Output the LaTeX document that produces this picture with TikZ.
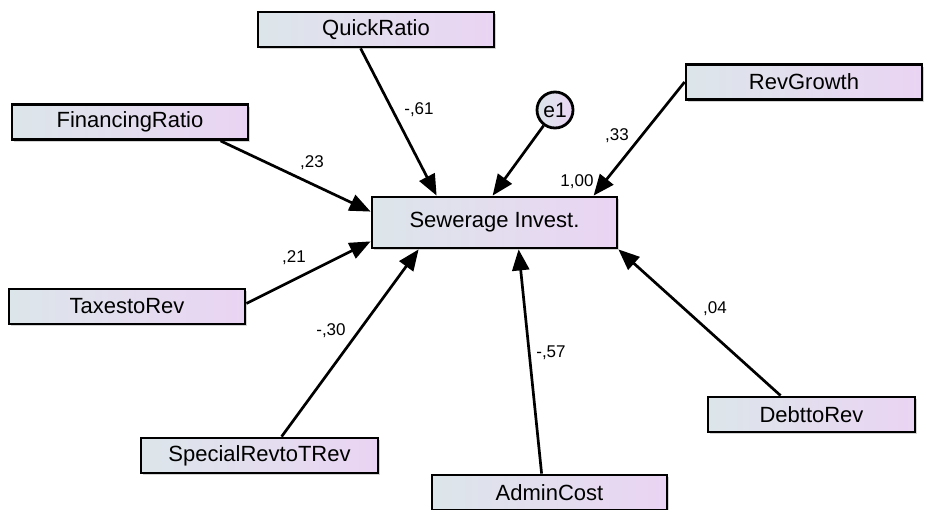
\documentclass[tikz,border=0pt]{standalone}
\usepackage{fontspec}
\setmainfont{Liberation Sans}
\usetikzlibrary{arrows.meta,calc,shadows}
\definecolor{boxleft}{HTML}{DCE6EA}
\definecolor{boxright}{HTML}{EAD4F3}
\definecolor{shade}{HTML}{C8C8C8}
\tikzset{
  var/.style={draw=black, line width=2.8pt, left color=boxleft, right color=boxright,
    minimum width=236pt, minimum height=35pt, inner sep=0pt,
    font=\fontsize{22}{25}\selectfont,
    drop shadow={shadow xshift=2pt, shadow yshift=-2pt, fill=shade, opacity=0.8}},
  errvar/.style={draw=black, circle, line width=2.8pt, left color=boxleft, right color=boxright,
    minimum size=36pt, inner sep=0pt, font=\fontsize{21}{23}\selectfont},
  path/.style={draw=black, line width=2.7pt,
    -{Triangle[length=21pt,width=17pt]}},
  coef/.style={font=\fontsize{17}{19}\selectfont, inner sep=0pt}
}
\begin{document}
\begin{tikzpicture}[x=1pt,y=-1pt]
  \useasboundingbox (0,0) rectangle (931,509);
  \clip (0,0) rectangle (931,509);
  \fill[white] (0,0) rectangle (931,509);

  % observed variables
  \node[var] (qr) at (376,29.5)  {QuickRatio};
  \node[var] (fr) at (130,122)   {FinancingRatio};
  \node[var] (rg) at (804,82)    {RevGrowth};
  \node[var] (tr) at (127,306.5) {TaxestoRev};
  \node[var, minimum width=237pt] (sr) at (259.5,455.5) {SpecialRevtoTRev};
  \node[var, minimum width=207pt] (dr) at (811.5,414.5) {DebttoRev};
  \node[var, minimum width=235pt] (ac) at (549.5,492.5) {AdminCost};
  \node[var, minimum width=245pt, minimum height=51pt] (sw) at (494.5,222.5) {Sewerage Invest.};
  % error term
  \node[errvar] (e1) at (555,110) {e1};

  % regression paths
  \draw[path] ($(qr.south west)+(104,0)$) -- ($(sw.north west)+(66,0)$);
  \draw[path] ($(fr.south west)+(210,0)$) -- ($(sw.north west)+(0,16)$);
  \draw[path] ($(tr.east)+(0,-3)$) -- ($(sw.south west)+(0,-8)$);
  \draw[path] ($(sr.north west)+(142,0)$) -- ($(sw.south west)+(48,0)$);
  \draw[path] ($(ac.north west)+(111,0)$) -- ($(sw.south west)+(148,0)$);
  \draw[path] ($(dr.north west)+(74,0)$) -- (sw.south east);
  \draw[path] (rg.west) -- ($(sw.north west)+(223,0)$);
  \draw[path] (e1) -- ($(sw.north west)+(122,0)$);

  % coefficients
  \node[coef] (cqr) at (419,110) {-,61};
  \node[coef] (cfr) at (312,163) {,23};
  \node[coef] (ctr) at (294,258) {,21};
  \node[coef] (csr) at (331,331) {-,30};
  \node[coef] (cac) at (551,353) {-,57};
  \node[coef] (cdr) at (715,309) {,04};
  \node[coef] (crg) at (617,136) {,33};
  \node[coef] (ce1) at (577,182) {1,00};
\end{tikzpicture}
\end{document}
